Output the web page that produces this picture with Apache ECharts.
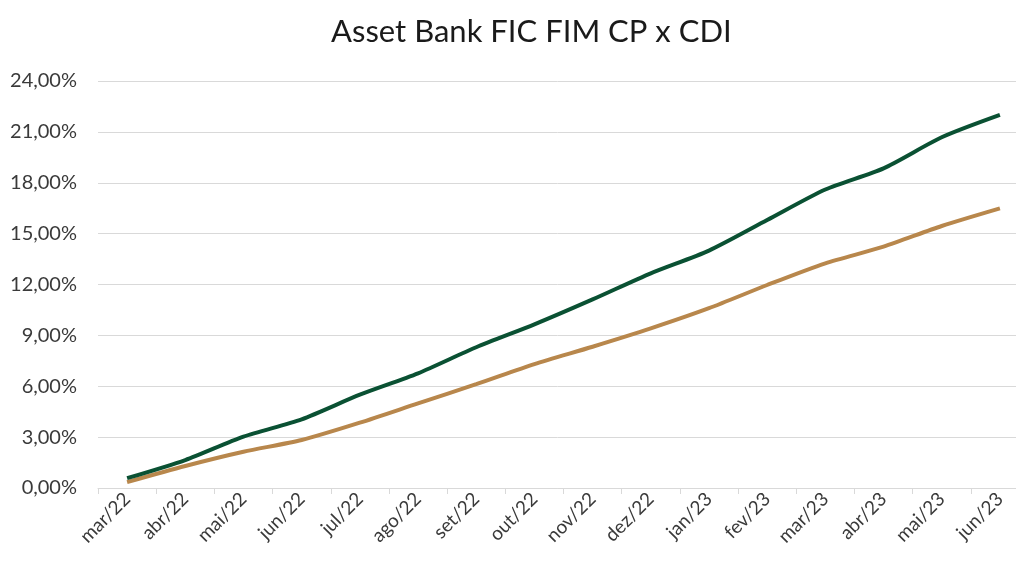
<!DOCTYPE html>
<html>
<head>
<meta charset="utf-8">
<script src="https://cdn.jsdelivr.net/npm/echarts@6/dist/echarts.min.js"></script>
<style>
html,body{margin:0;padding:0;background:#fff;}
#chart{width:1016px;height:565px;}
</style>
</head>
<body>
<div id="chart"></div>
<script>
const categories = ['mar/22','abr/22','mai/22','jun/22','jul/22','ago/22','set/22','out/22','nov/22','dez/22','jan/23','fev/23','mar/23','abr/23','mai/23','jun/23'];
const fundValues = [0.58, 1.65, 3.03, 4.05, 5.50, 6.76, 8.30, 9.65, 11.12, 12.66, 14.00, 15.80, 17.60, 18.85, 20.68, 22.00];
const cdiValues  = [0.35, 1.30, 2.14, 2.83, 3.85, 4.99, 6.12, 7.31, 8.33, 9.41, 10.60, 11.97, 13.25, 14.23, 15.45, 16.49];
const yTicks = { min: 0, max: 24, interval: 3 };

const chart = echarts.init(document.getElementById('chart'), null, {renderer: 'canvas'});
const fontFam = 'Lato, "Open Sans", sans-serif';
chart.setOption({
  backgroundColor: '#ffffff',
  animation: false,
  title: {
    text: 'Asset Bank FIC FIM CP x CDI',
    left: 326,
    top: 11,
    textStyle: { fontFamily: fontFam, fontSize: 31, fontWeight: 'normal', color: '#1a1a1a' }
  },
  grid: { left: 98, width: 931, top: 81, bottom: 77, containLabel: false, outerBoundsMode: 'none' },
  xAxis: {
    type: 'category',
    data: categories,
    boundaryGap: true,
    axisLine: { lineStyle: { color: '#d9d9d9', width: 1 } },
    axisTick: { show: true, length: 6, lineStyle: { color: '#d9d9d9' } },
    axisLabel: { rotate: 45, interval: 0, margin: 8, fontFamily: fontFam, fontSize: 19, color: '#3a3a3a' },
    splitLine: { show: false }
  },
  yAxis: {
    type: 'value',
    min: yTicks.min, max: yTicks.max, interval: yTicks.interval,
    axisLine: { show: false },
    axisTick: { show: false },
    axisLabel: {
      margin: 21, fontFamily: fontFam, fontSize: 20, color: '#3a3a3a',
      formatter: v => v.toFixed(2).replace('.', ',') + '%'
    },
    splitLine: { lineStyle: { color: '#d9d9d9', width: 1 } }
  },
  series: [
    {
      name: 'Asset Bank FIC FIM CP',
      type: 'line',
      data: fundValues,
      smooth: 0.25,
      symbol: 'none',
      lineStyle: { color: '#0a5133', width: 4 },
      z: 3
    },
    {
      name: 'CDI',
      type: 'line',
      data: cdiValues,
      smooth: 0.25,
      symbol: 'none',
      lineStyle: { color: '#b8874c', width: 4 },
      z: 2
    }
  ]
});
</script>
</body>
</html>
